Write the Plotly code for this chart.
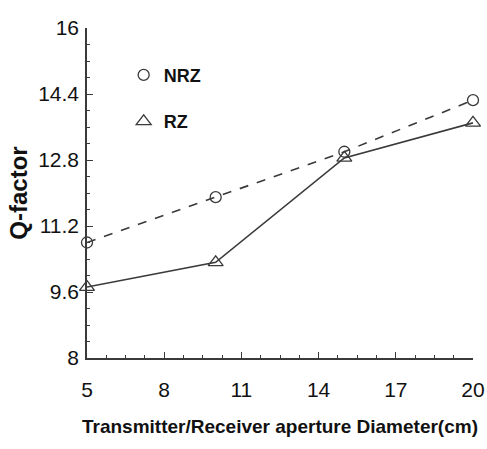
import plotly.graph_objects as go

diameter = [5, 10, 15, 20]
q_nrz = [10.8, 11.9, 13.0, 14.25]
q_rz = [9.72, 10.32, 12.85, 13.7]

x_ticks = [5, 8, 11, 14, 17, 20]
y_ticks = [8, 9.6, 11.2, 12.8, 14.4, 16]

FONT = "Liberation Sans, Arial"
LINE = "#3a3a3a"

fig = go.Figure()
fig.add_trace(go.Scatter(
    x=diameter, y=q_nrz, mode="lines+markers", showlegend=False,
    line=dict(color=LINE, width=1.6, dash="dash"),
    marker=dict(symbol="circle-open", size=11, color=LINE, line=dict(width=1.3)),
    cliponaxis=False))
fig.add_trace(go.Scatter(
    x=diameter, y=q_rz, mode="lines+markers", showlegend=False,
    line=dict(color=LINE, width=1.6),
    marker=dict(symbol="triangle-up-open", size=13, color=LINE, line=dict(width=1.3)),
    cliponaxis=False))
# legend entries (markers only)
fig.add_trace(go.Scatter(
    x=[None], y=[None], mode="markers", name="NRZ", legendgroup="a",
    marker=dict(symbol="circle-open", size=11, color=LINE, line=dict(width=1.3))))
fig.add_trace(go.Scatter(
    x=[None], y=[None], mode="markers", name="RZ", legendgroup="b",
    marker=dict(symbol="triangle-up-open", size=13, color=LINE, line=dict(width=1.3))))

fig.update_layout(
    width=487, height=449,
    margin=dict(l=87, r=14, t=28, b=91),
    paper_bgcolor="white", plot_bgcolor="white",
    font=dict(family=FONT, color="#111111"),
    legend=dict(x=0.095, y=0.913, xanchor="left", yanchor="top",
                bgcolor="rgba(0,0,0,0)", tracegroupgap=20,
                font=dict(size=18, family=FONT, weight="bold"),
                itemwidth=30),
    xaxis=dict(
        range=[5, 20], tickvals=x_ticks, ticktext=[str(v) for v in x_ticks],
        showgrid=False, zeroline=False, showline=True, linecolor=LINE, linewidth=1.5,
        ticks="inside", ticklen=6, tickcolor=LINE, tickwidth=1.2,
        minor=dict(dtick=0.75, tick0=5, ticks="inside", ticklen=3, tickcolor=LINE),
        tickfont=dict(size=21, family=FONT), ticklabelstandoff=12, automargin=False,
        title=dict(text="Transmitter/Receiver aperture Diameter(cm)",
                   font=dict(size=19, family=FONT, weight="bold"), standoff=20)),
    yaxis=dict(
        range=[8, 16], tickvals=y_ticks, ticktext=[str(v) for v in y_ticks],
        showgrid=False, zeroline=False, showline=True, linecolor=LINE, linewidth=1.5,
        ticks="inside", ticklen=6, tickcolor=LINE, tickwidth=1.2,
        minor=dict(dtick=0.4, tick0=8, ticks="inside", ticklen=3, tickcolor=LINE),
        tickfont=dict(size=21, family=FONT), ticklabelstandoff=2, automargin=False,
        title=dict(text="Q-factor",
                   font=dict(size=24, family=FONT, weight="bold"), standoff=4)),
)

fig.write_html("out.html")
